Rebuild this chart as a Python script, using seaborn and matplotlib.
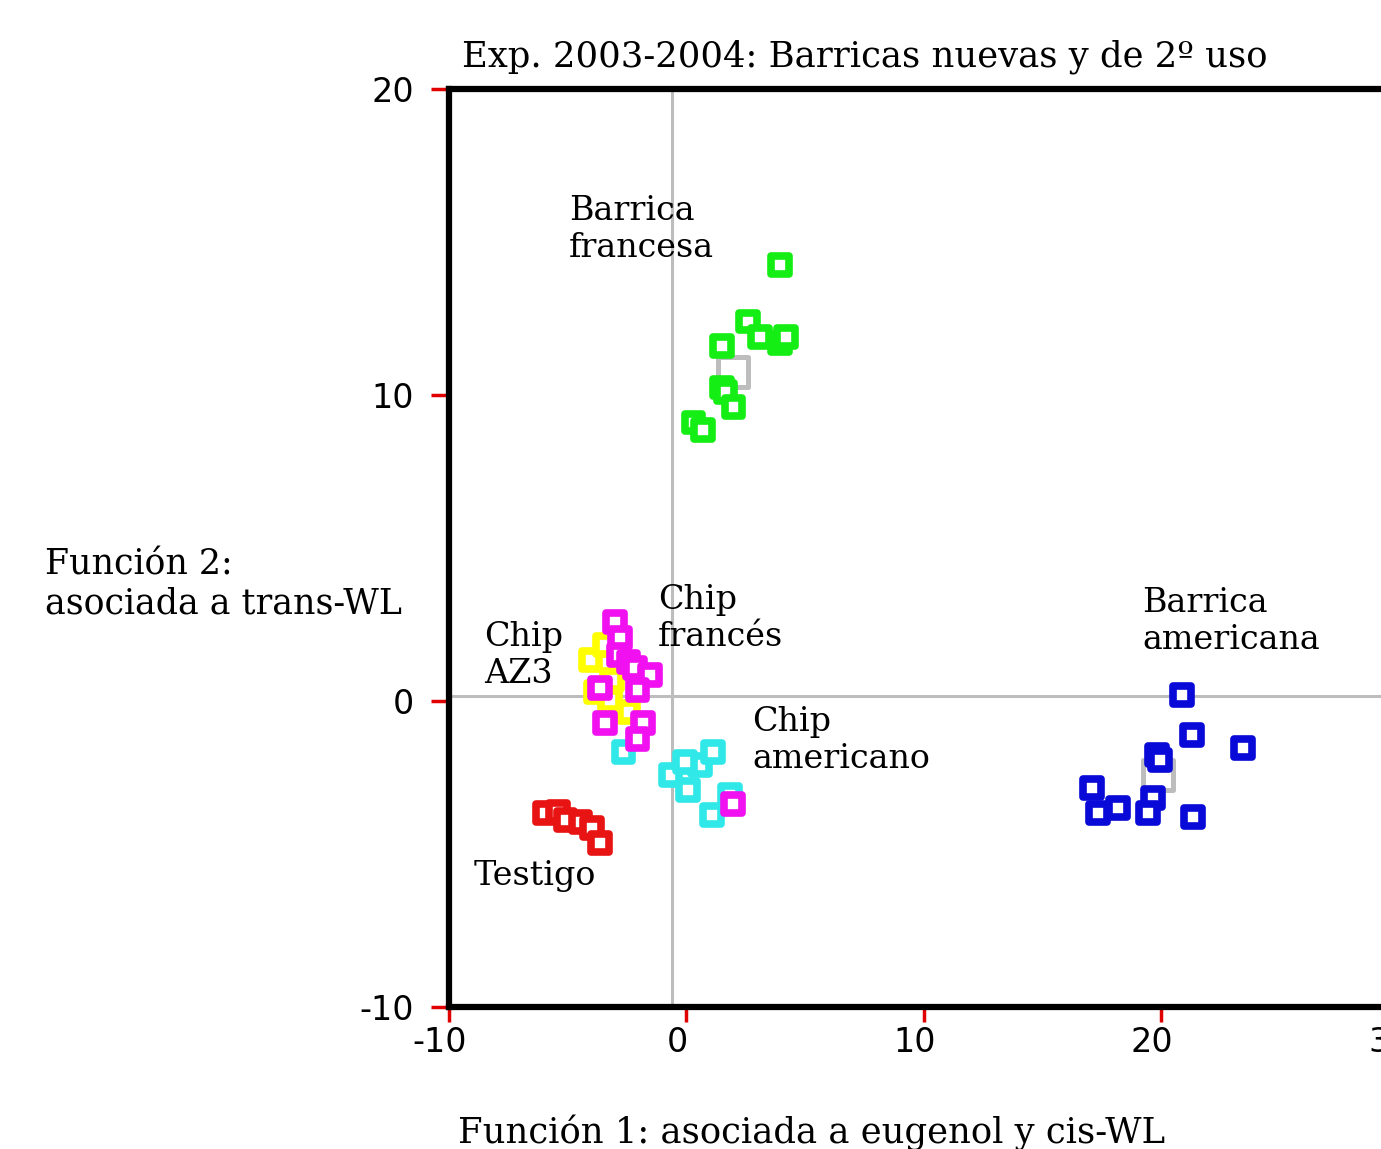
import numpy as np
import pandas as pd
import matplotlib
matplotlib.use("Agg")
import matplotlib.pyplot as plt
import matplotlib.transforms as mtransforms
import seaborn as sns

# Discriminant scores (Función 1, Función 2) per treatment
testigo_x = [-5.94, -5.39, -5.09, -4.46, -3.96, -3.62]
testigo_y = [-3.66, -3.63, -3.89, -3.96, -4.15, -4.65]

chip_am_x = [-2.65, -0.67, 0.08, 0.59, 1.14, -0.04, 1.09, 1.85]
chip_am_y = [-1.67, -2.42, -2.91, -2.09, -1.67, -2.00, -3.73, -3.07]

chip_az3_x = [-4.04, -3.41, -3.79, -3.20, -2.44, -3.12]
chip_az3_y = [1.34, 1.83, 0.29, 0.03, -0.36, 0.69]

chip_fr_x = [-2.99, -2.78, -2.86, -2.44, -2.15, -1.52, -3.62, -2.06, -3.41, -1.81, -2.06, 1.98]
chip_fr_y = [2.58, 2.06, 1.50, 1.28, 1.08, 0.85, 0.43, 0.36, -0.72, -0.72, -1.24, -3.37]

barr_fr_x = [3.96, 2.60, 3.10, 3.96, 4.20, 1.50, 1.50, 1.65, 2.00, 0.30, 0.70]
barr_fr_y = [14.25, 12.40, 11.90, 11.70, 11.90, 11.60, 10.25, 10.10, 9.60, 9.10, 8.85]

barr_am_x = [20.88, 21.30, 23.45, 19.83, 19.96, 17.09, 17.35, 18.19, 19.66, 19.45, 21.35]
barr_am_y = [0.20, -1.11, -1.54, -1.77, -1.93, -2.85, -3.66, -3.50, -3.17, -3.66, -3.79]

# Group centroids
cent_x = [1.98, 19.87]
cent_y = [10.76, -2.42]

groups = ["Testigo", "Chip americano", "Chip AZ3", "Chip francés",
          "Barrica francesa", "Barrica americana"]
colors = ["#e81414", "#30e8e8", "#ffff00", "#f010f0", "#14ee14", "#0a0ad8"]
xs = [testigo_x, chip_am_x, chip_az3_x, chip_fr_x, barr_fr_x, barr_am_x]
ys = [testigo_y, chip_am_y, chip_az3_y, chip_fr_y, barr_fr_y, barr_am_y]

df = pd.concat(
    [pd.DataFrame({"f1": x, "f2": y, "grupo": g}) for g, x, y in zip(groups, xs, ys)],
    ignore_index=True,
)
cent = pd.DataFrame({"f1": cent_x, "f2": cent_y})

sns.set_theme(style="white")
plt.rcParams["font.family"] = ["DejaVu Sans"]
plt.rcParams["axes.unicode_minus"] = False
plt.rcParams["text.color"] = "black"

fig = plt.figure(figsize=(13.81, 11.49), dpi=100)
ax = fig.add_axes([0.325, 0.1236, 0.6876, 0.799])

# Reference lines through the origin
ax.axvline(-0.6, color="#bdbdbd", lw=2.2, zorder=1)
ax.axhline(0.15, color="#bdbdbd", lw=2.2, zorder=1)

# Centroids: large hollow grey squares
sns.scatterplot(data=cent, x="f1", y="f2", color="#bdbdbd", marker="s",
                s=470, legend=False, ax=ax, zorder=2)
c0 = ax.collections[-1]
c0.set_edgecolors(c0.get_facecolors())
c0.set_facecolors("white")
c0.set_linewidths(3.6)

# Individual wines: hollow coloured squares
sns.scatterplot(data=df, x="f1", y="f2", hue="grupo", hue_order=groups,
                palette=dict(zip(groups, colors)), marker="s", s=160,
                legend=False, ax=ax, zorder=3)
c1 = ax.collections[-1]
c1.set_edgecolors(c1.get_facecolors())
c1.set_facecolors("white")
c1.set_linewidths(5.5)

ax.set_xlim(-10, 30)
ax.set_ylim(-10, 20)
ax.set_xticks([-10, 0, 10, 20, 30])
ax.set_yticks([-10, 0, 10, 20])
ax.set_xlabel("")
ax.set_ylabel("")
ax.grid(False)

for side in ["top", "left", "bottom"]:
    ax.spines[side].set_color("black")
    ax.spines[side].set_linewidth(4.5)
ax.spines["right"].set_visible(False)

ax.tick_params(axis="both", which="major", direction="out", color="#e00000",
               width=2.5, labelsize=24, labelcolor="black")
ax.tick_params(axis="y", length=13, pad=12, left=True)
ax.tick_params(axis="x", length=11, pad=3, bottom=True)

# x tick labels sit slightly left of their ticks
shift = mtransforms.ScaledTranslation(-9 / 100, 0, fig.dpi_scale_trans)
for lbl in ax.get_xticklabels():
    lbl.set_transform(lbl.get_transform() + shift)

serif = "DejaVu Serif"
lab = dict(fontfamily=serif, fontsize=24, va="center", ha="left",
           linespacing=1.2, color="black")
ax.text(-4.93, 15.42, "Barrica\nfrancesa", **lab)
ax.text(-1.18, 2.71, "Chip\nfrancés", **lab)
ax.text(-8.50, 1.50, "Chip\nAZ3", **lab)
ax.text(2.78, -1.29, "Chip\namericano", **lab)
ax.text(19.20, 2.61, "Barrica\namericana", **lab)
ax.text(-8.97, -5.72, "Testigo", **lab)

fig.text(865 / 1381, 1 - 57 / 1149, "Exp. 2003-2004: Barricas nuevas y de 2º uso",
         ha="center", va="center", fontfamily=serif, fontsize=25.5, color="black")
fig.text(812 / 1381, 1 - 1133 / 1149, "Función 1: asociada a eugenol y cis-WL",
         ha="center", va="center", fontfamily=serif, fontsize=25.5, color="black")
fig.text(45 / 1381, 1 - 584 / 1149, "Función 2:\nasociada a trans-WL",
         ha="left", va="center", fontfamily=serif, fontsize=25, linespacing=1.2,
         color="black")

fig.savefig("out.png", dpi=100, facecolor="white")
